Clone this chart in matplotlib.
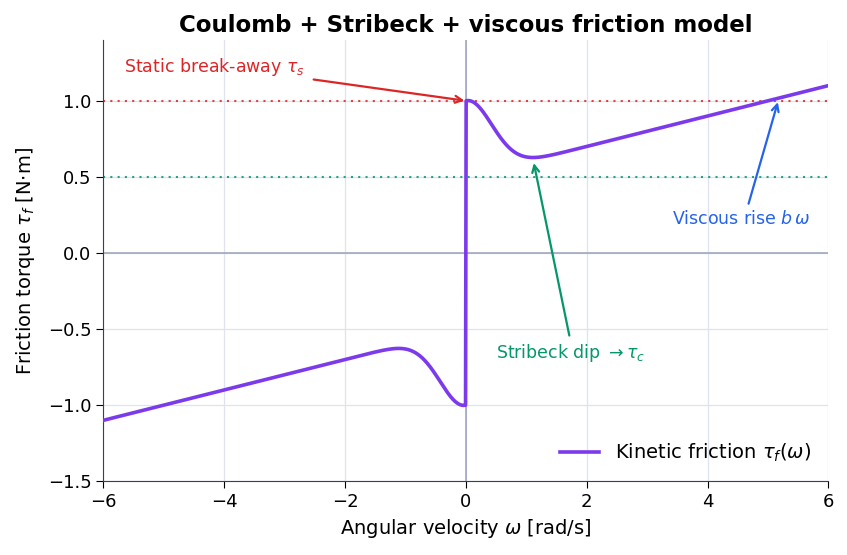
import numpy as np
import matplotlib
matplotlib.use("Agg")
import matplotlib.pyplot as plt

# model parameters
tau_s = 1.0      # static break-away torque
tau_c = 0.5      # Coulomb torque
b = 0.1          # viscous coefficient
w_s = 0.6        # Stribeck velocity

w = np.linspace(-6, 6, 2401)
w = w[w != 0]
tau = np.sign(w) * (tau_c + (tau_s - tau_c) * np.exp(-(w / w_s) ** 2)) + b * w

purple = "#7c3aed"
red = "#dc2626"
green = "#059669"
blue = "#2563eb"

fig, ax = plt.subplots(figsize=(8.47, 5.55), dpi=100)

ax.grid(True, color="#dfe3f0", lw=0.9)
ax.axhline(0, color="#9aa0b8", lw=1.1)
ax.axvline(0, color="#9aa0b8", lw=1.1)
ax.axhline(tau_s, color=red, ls=(0, (1, 2.5)), lw=1.5, alpha=0.85)
ax.axhline(tau_c, color=green, ls=(0, (1, 2.5)), lw=1.5, alpha=0.85)

ax.plot(w, tau, color=purple, lw=2.6, label=r"Kinetic friction $\tau_f(\omega)$", zorder=3)

ax.annotate(r"Static break-away $\tau_s$", xy=(0, 1.0), xytext=(-5.65, 1.22),
            color=red, fontsize=12.5, va="center",
            arrowprops=dict(arrowstyle="->", color=red, lw=1.6,
                            shrinkA=4, shrinkB=1, relpos=(1.0, 0.0)))
ax.annotate(r"Stribeck dip $\rightarrow \tau_c$", xy=(1.12, 0.6), xytext=(0.5, -0.66),
            color=green, fontsize=12.5, va="center",
            arrowprops=dict(arrowstyle="->", color=green, lw=1.6,
                            shrinkA=3, shrinkB=1, relpos=(0.5, 1.0)))
ax.annotate(r"Viscous rise $b\,\omega$", xy=(5.17, 1.0), xytext=(3.41, 0.22),
            color=blue, fontsize=12.5, va="center",
            arrowprops=dict(arrowstyle="->", color=blue, lw=1.6,
                            shrinkA=3, shrinkB=1, relpos=(0.54, 1.0)))

ax.set_xlim(-6, 6)
ax.set_ylim(-1.5, 1.4)
ax.set_yticks([-1.5, -1.0, -0.5, 0.0, 0.5, 1.0])
ax.tick_params(labelsize=13, length=5)
ax.set_xlabel(r"Angular velocity $\omega$ [rad/s]", fontsize=14)
ax.set_ylabel(r"Friction torque $\tau_f$ [N$\cdot$m]", fontsize=14, labelpad=8)
ax.set_title("Coulomb + Stribeck + viscous friction model", fontsize=16.5, fontweight="bold")

for s in ["top", "right"]:
    ax.spines[s].set_visible(False)
for s in ["left", "bottom"]:
    ax.spines[s].set_color("#3a3f55")

ax.legend(loc="lower right", frameon=False, fontsize=14)

fig.subplots_adjust(left=0.122, right=0.978, top=0.928, bottom=0.133)
fig.savefig("out.png", dpi=100)
